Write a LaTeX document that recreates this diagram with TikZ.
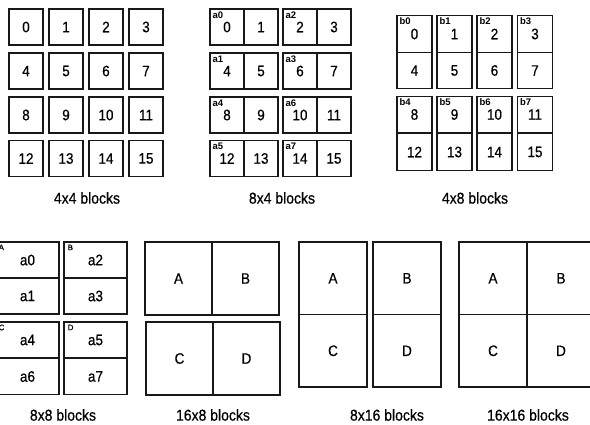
\documentclass[tikz,border=0pt]{standalone}
\usepackage{fontspec}
\usepackage{graphicx}
\setmainfont{Liberation Sans}
\newfontfamily\scanfont[FakeBold=0.6]{Liberation Sans}
\newcommand\stx[1]{\scalebox{1}[1.12]{#1}}
\begin{document}
\begin{tikzpicture}[x=1pt,y=-1pt,
  cell/.style={draw=black!90, line width=1.1pt, rectangle, inner sep=0pt, font=\scanfont\fontsize{13.5}{14}\selectfont},
  sq/.style={cell, minimum width=34pt, minimum height=36pt},
  sq2/.style={cell, minimum width=35pt, minimum height=36.5pt},
  half/.style={cell, minimum width=63pt, minimum height=36pt},
  big/.style={cell, minimum width=67pt, minimum height=73pt},
  tall/.style={cell, minimum width=68pt, minimum height=72.5pt},
  lab/.style={inner sep=0pt, anchor=north west, font=\fontsize{9.5}{9.5}\selectfont\bfseries},
  labs/.style={inner sep=0pt, anchor=north west, font=\scanfont\fontsize{8}{8}\selectfont},
  captxt/.style={inner sep=0pt, font=\scanfont\fontsize{14}{14}\selectfont}]
\useasboundingbox (0,0) rectangle (590,424);
\fill[white] (0,0) rectangle (590,424);
\clip (0,0) rectangle (590,424);

% ---------- 4x4 blocks ----------
\foreach \n/\cx/\cy in {0/26/27,1/66/27,2/106/27,3/146/27,
                        4/26/71,5/66/71,6/106/71,7/146/71,
                        8/26/115,9/66/115,10/106/115,11/146/115,
                        12/26/158.5,13/66/158.5,14/106/158.5,15/146/158.5}
  \node[sq] (p\n) at (\cx,\cy) {\stx{\n}};
\node[captxt] (cap1) at (87,198) {\stx{4x4 blocks}};

% ---------- 8x4 blocks ----------
\foreach \n/\cx/\cy in {0/227/27,1/261/27,2/300/27,3/334/27,
                        4/227/71,5/261/71,6/300/71,7/334/71,
                        8/227/115,9/261/115,10/300/115,11/334/115,
                        12/227/158.5,13/261/158.5,14/300/158.5,15/334/158.5}
  \node[sq] (q\n) at (\cx,\cy) {\stx{\n}};
\foreach \c/\l in {0/a0,2/a2,4/a1,6/a3,8/a4,10/a6,12/a5,14/a7}
  \node[lab] (ql\c) at ([shift={(3pt,-3pt)}]q\c.north west) {\l};
\node[captxt] (cap2) at (282,198) {\stx{8x4 blocks}};

% ---------- 4x8 blocks ----------
\foreach \n/\cx/\cy in {0/414.5/34,1/454.5/34,2/494.5/34,3/535/34,
                        4/414.5/70.5,5/454.5/70.5,6/494.5/70.5,7/535/70.5,
                        8/414.5/114.5,9/454.5/114.5,10/494.5/114.5,11/535/114.5,
                        12/414.5/152,13/454.5/152,14/494.5/152,15/535/152}
  \node[sq2] (r\n) at (\cx,\cy) {\stx{\n}};
\foreach \c/\l in {0/b0,1/b1,2/b2,3/b3,8/b4,9/b5,10/b6,11/b7}
  \node[lab] (rl\c) at ([shift={(3pt,-2.5pt)}]r\c.north west) {\l};
\node[captxt] (cap3) at (475,198) {\stx{4x8 blocks}};

% ---------- 8x8 blocks ----------
\foreach \n/\t/\cx/\cy in {a0/a0/27.5/260,a1/a1/27.5/296,a2/a2/95.5/260,a3/a3/95.5/296,
                           a4/a4/27.5/340,a6/a6/27.5/376.5,a5/a5/95.5/340,a7/a7/95.5/376.5}
  \node[half] (s\n) at (\cx,\cy) {\stx{\t}};
\node[labs] (slA) at ([shift={(3pt,-3pt)}]sa0.north west) {A};
\node[labs] (slB) at ([shift={(4pt,-3pt)}]sa2.north west) {B};
\node[labs] (slC) at ([shift={(3pt,-3pt)}]sa4.north west) {C};
\node[labs] (slD) at ([shift={(4pt,-3pt)}]sa5.north west) {D};
\node[captxt] (cap4) at (63,415) {\stx{8x8 blocks}};

% ---------- 16x8 blocks ----------
\node[big] (tA) at (178.5,278.5) {\stx{A}};
\node[big] (tB) at (245.5,278.5) {\stx{B}};
\node[big] (tC) at (179.5,358.5) {\stx{C}};
\node[big] (tD) at (246.5,358.5) {\stx{D}};
\node[captxt] (cap5) at (213,415) {\stx{16x8 blocks}};

% ---------- 8x16 blocks ----------
\node[tall] (uA) at (333,278.25) {\stx{A}};
\node[tall] (uC) at (333,350.75) {\stx{C}};
\node[tall] (uB) at (407,278.25) {\stx{B}};
\node[tall] (uD) at (407,350.75) {\stx{D}};
\node[captxt] (cap6) at (387,415) {\stx{8x16 blocks}};

% ---------- 16x16 blocks ----------
\node[tall] (vA) at (493,278.25) {\stx{A}};
\node[tall] (vB) at (561,278.25) {\stx{B}};
\node[tall] (vC) at (493,350.75) {\stx{C}};
\node[tall] (vD) at (561,350.75) {\stx{D}};
\node[captxt] (cap7) at (528,415) {\stx{16x16 blocks}};
\end{tikzpicture}
\end{document}
